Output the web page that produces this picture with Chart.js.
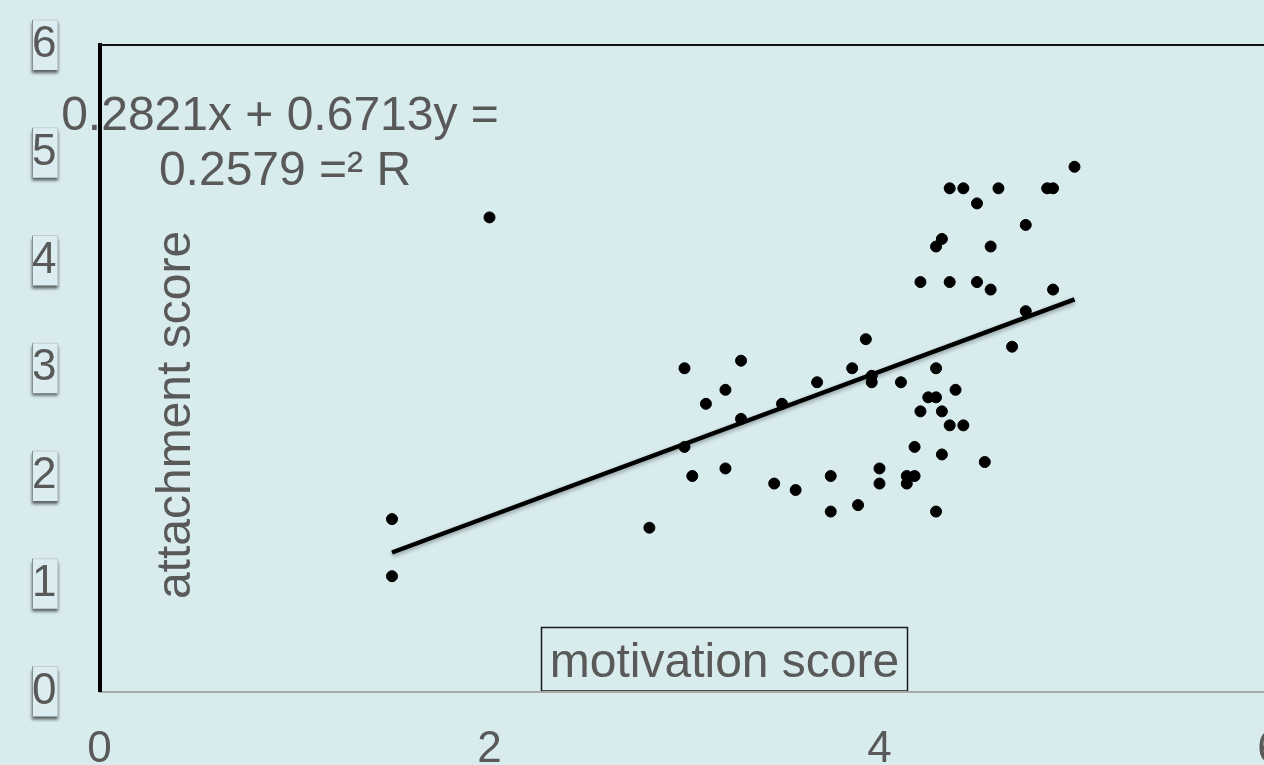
<!DOCTYPE html>
<html>
<head>
<meta charset="utf-8">
<script src="https://cdn.jsdelivr.net/npm/chart.js@4.4.1/dist/chart.umd.min.js"></script>
<style>
  html, body { margin: 0; padding: 0; background: #d8ebed; overflow: hidden; width: 1264px; height: 765px; }
  #wrap { position: relative; width: 1264px; height: 765px; overflow: hidden; }
  canvas { display: block; }
</style>
</head>
<body>
<div id="wrap"><canvas id="c" width="1320" height="800" style="width:1320px;height:800px"></canvas></div>
<script>
// ---- data ----
const motivation = [1.5, 1.5, 2.0, 2.82, 3.0, 3.0, 3.04, 3.11, 3.21, 3.21, 3.29, 3.29, 3.46, 3.5, 3.57, 3.68, 3.75, 3.75, 3.86, 3.89, 3.93, 3.96, 3.96, 4.0, 4.0, 4.11, 4.14, 4.14, 4.18, 4.18, 4.21, 4.25, 4.29, 4.29, 4.29, 4.32, 4.32, 4.36, 4.39, 4.43, 4.54, 4.21, 4.36, 4.5, 4.57, 4.29, 4.32, 4.57, 4.36, 4.43, 4.5, 4.61, 4.86, 4.89, 5.0, 4.75, 4.75, 4.89, 4.68];
const attachment = [1.6, 1.07, 4.4, 1.52, 3.0, 2.27, 2.0, 2.67, 2.8, 2.07, 3.07, 2.53, 1.93, 2.67, 1.87, 2.87, 2.0, 1.67, 3.0, 1.73, 3.27, 2.93, 2.87, 2.07, 1.93, 2.87, 2.0, 1.93, 2.0, 2.27, 2.6, 2.73, 2.73, 3.0, 1.67, 2.6, 2.2, 2.47, 2.8, 2.47, 2.13, 3.8, 3.8, 3.8, 3.73, 4.13, 4.2, 4.13, 4.67, 4.67, 4.53, 4.67, 4.67, 4.67, 4.87, 4.33, 3.53, 3.73, 3.2];
const trendX = [1.5, 5.0];
const trendY = [1.29, 3.64];
const xTicks = [0, 2, 4, 6];
const yTicks = [0, 1, 2, 3, 4, 5, 6];
const equationLines = ["0.2821x + 0.6713y =", "0.2579 =\u00B2 R"];
const xTitle = "motivation score";
const yTitle = "attachment score";

const FONT = "'Liberation Sans', Arial, sans-serif";
const TEXT = "#595959";

const points = motivation.map((x, i) => ({ x: x, y: attachment[i] }));
const trend = trendX.map((x, i) => ({ x: x, y: trendY[i] }));

const decorPlugin = {
  id: 'decor',
  beforeDraw(chart) {
    const ctx = chart.ctx;
    const ys = chart.scales.y;
    ctx.save();
    ctx.fillStyle = '#d8ebed';
    ctx.fillRect(0, 0, chart.width, chart.height);
    // boxes behind y tick labels
    yTicks.forEach(v => {
      const cy = ys.getPixelForValue(v);
      ctx.save();
      ctx.shadowColor = 'rgba(0,0,0,0.6)';
      ctx.shadowBlur = 3;
      ctx.shadowOffsetY = 3;
      ctx.fillStyle = '#dbedf0';
      ctx.fillRect(32, cy - 25, 26, 50);
      ctx.restore();
      ctx.strokeStyle = 'rgba(110,110,110,0.75)';
      ctx.lineWidth = 1;
      ctx.beginPath();
      ctx.moveTo(32.5, cy + 25);
      ctx.lineTo(32.5, cy - 25);
      ctx.stroke();
      ctx.strokeStyle = 'rgba(150,150,150,0.35)';
      ctx.beginPath();
      ctx.moveTo(32.5, cy - 25);
      ctx.lineTo(57.5, cy - 25);
      ctx.lineTo(57.5, cy + 25);
      ctx.stroke();
    });
    // equation text
    ctx.fillStyle = TEXT;
    ctx.font = '48px ' + FONT;
    ctx.textAlign = 'center';
    ctx.textBaseline = 'alphabetic';
    ctx.fillText(equationLines[0], 280, 130);
    ctx.fillText(equationLines[1], 285, 185);
    // y title (rotated)
    ctx.save();
    ctx.translate(190, 415);
    ctx.rotate(-Math.PI / 2);
    ctx.textAlign = 'center';
    ctx.fillText(yTitle, 0, 0);
    ctx.restore();
    // x title box
    ctx.fillText(xTitle, 724.5, 677);
    ctx.strokeStyle = '#1a1a1a';
    ctx.lineWidth = 1.5;
    ctx.strokeRect(541.5, 627.5, 366, 63.5);
    ctx.restore();
  },
  afterDraw(chart) {
    const ctx = chart.ctx;
    const ca = chart.chartArea;
    ctx.save();
    ctx.strokeStyle = '#111';
    ctx.lineWidth = 2;
    ctx.beginPath();
    ctx.moveTo(ca.left, ca.top);
    ctx.lineTo(ca.right, ca.top);
    ctx.stroke();
    ctx.restore();
  },
  beforeDatasetDraw(chart, args) {
    if (args.index === 0) {
      const ctx = chart.ctx;
      ctx.save();
      ctx.shadowColor = 'rgba(0,0,0,0.35)';
      ctx.shadowBlur = 4;
      ctx.shadowOffsetY = 2;
    }
  },
  afterDatasetDraw(chart, args) {
    if (args.index === 0) chart.ctx.restore();
  }
};

new Chart(document.getElementById('c'), {
  type: 'scatter',
  data: {
    datasets: [
      {
        type: 'line',
        data: trend,
        borderColor: '#000',
        borderWidth: 4.5,
        pointRadius: 0,
        fill: false,
        tension: 0,
        order: 0
      },
      {
        data: points,
        backgroundColor: '#000',
        borderColor: '#000',
        borderWidth: 1,
        pointRadius: 5.5,
        pointHoverRadius: 5.5,
        order: 1
      }
    ]
  },
  options: {
    responsive: false,
    devicePixelRatio: 1,
    animation: false,
    events: [],
    layout: { padding: { top: 45, left: 32, right: 50.5, bottom: 0 } },
    plugins: { legend: { display: false }, tooltip: { enabled: false } },
    scales: {
      x: {
        type: 'linear',
        min: 0, max: 6,
        afterBuildTicks(s) { s.ticks = xTicks.map(v => ({ value: v })); },
        afterFit(s) { s.height = 108.5; },
        grid: { display: false, drawTicks: false },
        border: { display: true, color: '#a9a9a9', width: 2 },
        ticks: { font: { size: 44, family: FONT }, color: TEXT, padding: 32, maxRotation: 0, autoSkip: false }
      },
      y: {
        type: 'linear',
        min: 0, max: 6,
        afterBuildTicks(s) { s.ticks = yTicks.map(v => ({ value: v })); },
        afterFit(s) { s.width = 67.5; },
        grid: { display: false, drawTicks: false },
        border: { display: true, color: '#000', width: 4 },
        ticks: { font: { size: 44, family: FONT }, color: TEXT, padding: 0, crossAlign: 'far', autoSkip: false }
      }
    }
  },
  plugins: [decorPlugin]
});
</script>
</body>
</html>
